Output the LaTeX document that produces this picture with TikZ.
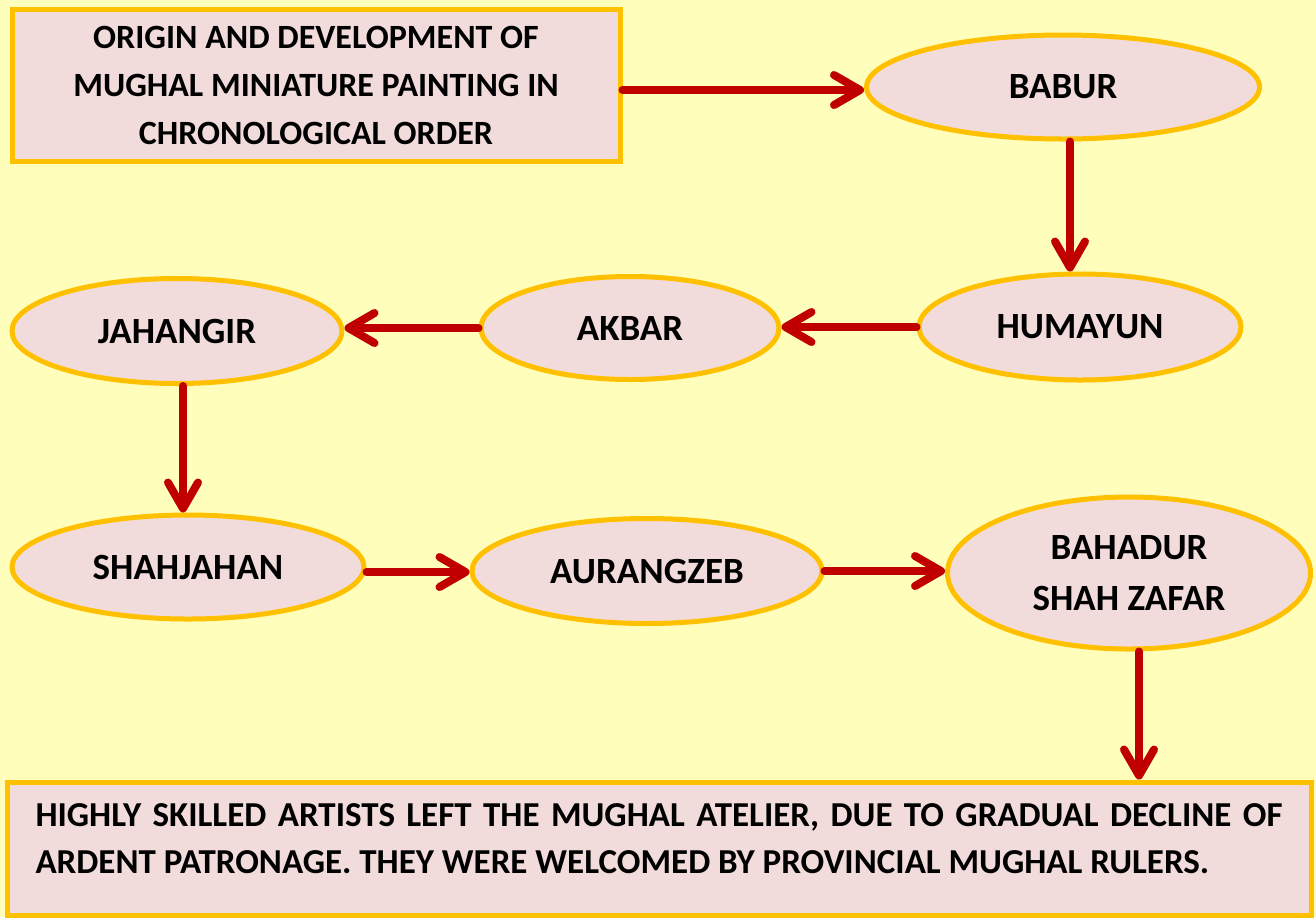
\documentclass[tikz,border=0pt]{standalone}
\usepackage{fontspec}
\setmainfont{Carlito}
\usetikzlibrary{positioning,shapes.geometric,arrows.meta}
\definecolor{paper}{HTML}{FFFFBB}
\definecolor{rose}{HTML}{F2DCDB}
\definecolor{amber}{HTML}{FFC000}
\definecolor{maroon}{HTML}{C00000}
\tikzset{
  every node/.style={
    fill=rose,
    draw=amber,
    line width=2.5pt,
    inner sep=0pt,
    align=center,
    font=\bfseries\fontsize{18.5}{25.5}\selectfont
  },
  ruler/.style={ellipse},
  caption/.style={rectangle, font=\bfseries\fontsize{17}{24}\selectfont},
  link/.style={draw=maroon, line width=4pt, line cap=round,
    -{Straight Barb[length=13pt,width=15pt,round]},
    preaction={draw=black, opacity=0.2, transform canvas={xshift=1pt,yshift=-1.5pt}}}
}

\begin{document}
\begin{tikzpicture}
        \fill[paper] (0,0) rectangle (658pt,-458.5pt);
        \useasboundingbox (0,0) rectangle (658pt,-458.5pt);
        \node [caption, minimum width=304pt, minimum height=76pt] (Title) at (158pt,-42.5pt) {ORIGIN AND DEVELOPMENT OF\\MUGHAL MINIATURE PAINTING IN\\CHRONOLOGICAL ORDER};
        \node [ruler, on grid, below right=1pt and 373.5pt of Title, minimum width=196.5pt, minimum height=52pt] (Babur) {BABUR};
        \node [ruler, on grid, below right=120pt and 8.5pt of Babur, minimum width=161pt, minimum height=53pt] (Humayun) {HUMAYUN};
        \node [ruler, on grid, below left=0.5pt and 225pt of Humayun, minimum width=149pt, minimum height=51.5pt] (Akbar) {AKBAR};
        \node [ruler, on grid, below left=1.5pt and 226.5pt of Akbar, minimum width=165pt, minimum height=52.5pt] (Jahangir) {JAHANGIR};
        \node [ruler, on grid, below right=118pt and 5.5pt of Jahangir, minimum width=176pt, minimum height=52pt] (Shahjahan) {SHAHJAHAN};
        \node [ruler, on grid, below right=2pt and 229.5pt of Shahjahan, minimum width=175pt, minimum height=52.5pt] (Aurangzeb) {AURANGZEB};
        \node [ruler, on grid, below right=1pt and 241pt of Aurangzeb, minimum width=181.5pt, minimum height=76pt] (Zafar) {BAHADUR\\SHAH ZAFAR};
        \node [rectangle, on grid, below right=138.75pt and 6pt of Aurangzeb, minimum width=652pt, minimum height=66.5pt,
          text width=623.5pt, align=justify, text depth=33pt, font=\bfseries\fontsize{17.5}{23.5}\selectfont] (Decline) {HIGHLY SKILLED ARTISTS LEFT THE MUGHAL ATELIER, DUE TO GRADUAL DECLINE OF\linebreak ARDENT PATRONAGE. THEY WERE WELCOMED BY PROVINCIAL MUGHAL RULERS.};
        \draw [link] ([yshift=-1.5pt]Babur.west -| Title.east) -- ([yshift=-1.5pt]Babur.west);
        \draw [link] ([xshift=3.5pt]Babur.south) -- ([xshift=-5pt]Humayun.north);
        \draw [link] (Humayun.west) -- (Humayun.west -| Akbar.east);
        \draw [link] (Akbar.west) -- (Akbar.west -| Jahangir.east);
        \draw [link] ([xshift=3pt]Jahangir.south) -- ([xshift=-2.5pt]Shahjahan.north);
        \draw [link] ([yshift=-0.5pt]Aurangzeb.west -| Shahjahan.east) -- ([yshift=-0.5pt]Aurangzeb.west);
        \draw [link] (Aurangzeb.east) -- (Aurangzeb.east -| Zafar.west);
        \draw [link] ([xshift=5pt]Zafar.south) -- ([xshift=5pt]Zafar.south |- Decline.north);
      \end{tikzpicture}
\end{document}
